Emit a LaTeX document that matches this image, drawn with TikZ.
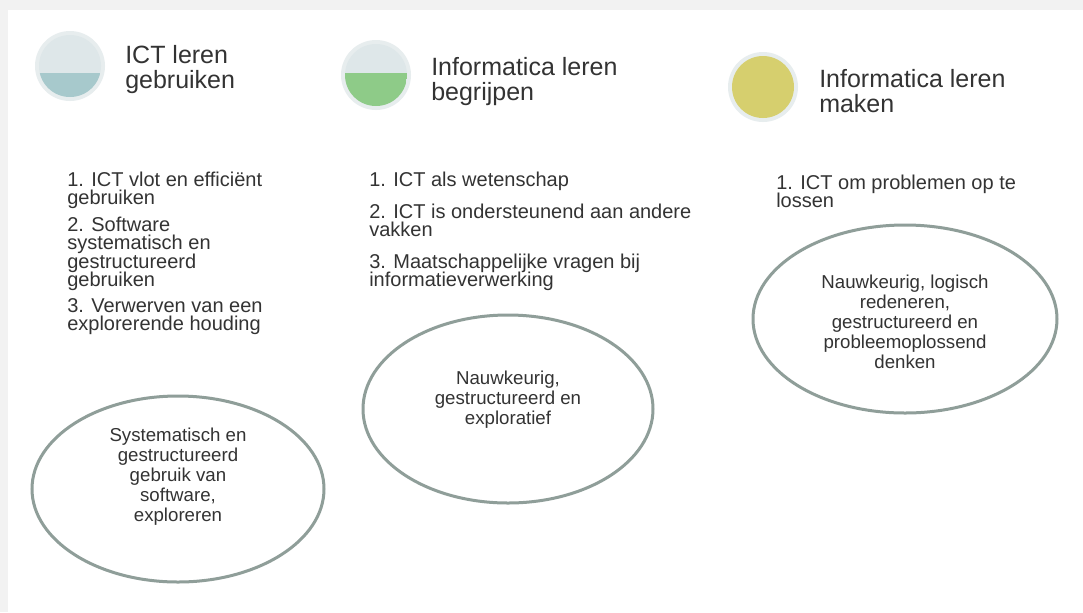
\documentclass[tikz,border=0pt]{standalone}
\usepackage{fontspec}
\setmainfont{Liberation Sans}
\usepackage{tikz}
\usetikzlibrary{positioning}
\definecolor{achtergrond}{RGB}{242,242,242}
\definecolor{tekstgrijs}{RGB}{51,51,51}
\definecolor{ringgrijs}{RGB}{231,237,238}
\definecolor{lichtblauw}{RGB}{222,231,233}
\definecolor{blauwgroen}{RGB}{167,201,204}
\definecolor{groen}{RGB}{142,203,136}
\definecolor{geel}{RGB}{214,207,110}
\definecolor{ovaalrand}{RGB}{143,158,153}

\begin{document}
\begin{tikzpicture}[x=0.75pt,y=0.75pt,yscale=-1,
  titel/.style={anchor=north west,inner sep=0.75pt,align=left,text=tekstgrijs,font={\fontsize{18.75}{19}\selectfont\lineskiplimit=-20pt}},
  lijst/.style={anchor=north west,inner sep=0.75pt,align=left,text=tekstgrijs,font={\fontsize{15}{13.6}\selectfont\lineskiplimit=-20pt}},
  ovaaltekst/.style={inner sep=0.75pt,align=center,text=tekstgrijs,font={\fontsize{14}{15}\selectfont\lineskiplimit=-20pt}},
  ovaal/.style={draw=ovaalrand,line width=2.25pt}]
\useasboundingbox (0,0) rectangle (1083,612);

%Shape: Rectangle (achtergrond)
\fill [achtergrond] (0,0) rectangle (1083,612);
\fill [white] (8,10) rectangle (1083,612);

%Shape: Circle (ICT leren gebruiken)
\fill [ringgrijs] (70,66) circle (35);
\fill [lichtblauw] (70,66) circle (31);
\begin{scope}
\clip (70,66) circle (31);
\fill [blauwgroen] (39,73) rectangle (101,97);
\end{scope}
%Shape: Circle (Informatica leren begrijpen)
\fill [ringgrijs] (376,75) circle (35);
\fill [lichtblauw] (376,75) circle (31);
\begin{scope}
\clip (376,75) circle (31);
\fill [groen] (345,73) rectangle (407,106);
\end{scope}
%Shape: Circle (Informatica leren maken)
\fill [ringgrijs] (763,87) circle (35);
\fill [geel] (763,87) circle (31);

% Text Node
\draw (124,44) node (titel1) [titel] {ICT leren\\gebruiken};
% Text Node
\draw (430,56) node (titel2) [titel] {Informatica leren\\begrijpen};
% Text Node
\draw (818,68) node (titel3) [titel] {Informatica leren\\maken};

% Text Node
\draw (66,171) node (gebruiken1) [lijst] {1. ICT vlot en efficiënt\\gebruiken};
% Text Node
\draw (66,216) node (gebruiken2) [lijst] {2. Software\\systematisch en\\gestructureerd\\gebruiken};
% Text Node
\draw (66,297) node (gebruiken3) [lijst] {3. Verwerven van een\\explorerende houding};
% Text Node
\draw (368,171) node (begrijpen1) [lijst] {1. ICT als wetenschap};
% Text Node
\draw (368,203) node (begrijpen2) [lijst] {2. ICT is ondersteunend aan andere\\vakken};
% Text Node
\draw (368,253) node (begrijpen3) [lijst] {3. Maatschappelijke vragen bij\\informatieverwerking};
% Text Node
\draw (775,174) node (maken1) [lijst] {1. ICT om problemen op te\\lossen};

%Shape: Ellipse
\draw [ovaal] (178,489) ellipse (146 and 93);
%Shape: Ellipse
\draw [ovaal] (508,409) ellipse (145 and 94);
%Shape: Ellipse
\draw [ovaal] (905,319) ellipse (152 and 94);

% Text Node
\draw (178,477) node (houding1) [ovaaltekst] {Systematisch en\\gestructureerd\\gebruik van\\software,\\exploreren};
% Text Node
\draw (508,400) node (houding2) [ovaaltekst] {Nauwkeurig,\\gestructureerd en\\exploratief};
% Text Node
\draw (905,322) node (houding3) [ovaaltekst] {Nauwkeurig, logisch\\redeneren,\\gestructureerd en\\probleemoplossend\\denken};

\end{tikzpicture}
\end{document}
